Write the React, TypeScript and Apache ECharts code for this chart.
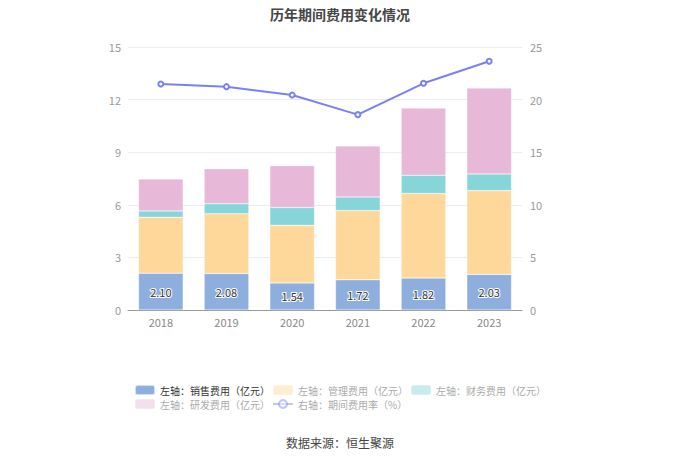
import React, { useEffect, useRef } from "react";
import * as echarts from "echarts";

const years = ["2018", "2019", "2020", "2021", "2022", "2023"];
const salesCost = [2.1, 2.08, 1.54, 1.72, 1.82, 2.03];
const adminCost = [3.19, 3.41, 3.29, 3.95, 4.83, 4.78];
const financeCost = [0.36, 0.57, 1.01, 0.78, 1.03, 0.95];
const rdCost = [1.82, 2.0, 2.39, 2.91, 3.84, 4.9];
const expenseRate = [21.48, 21.23, 20.44, 18.57, 21.55, 23.64];

const leftTicks = { min: 0, max: 15, interval: 3 };
const rightTicks = { min: 0, max: 25, interval: 5 };

const names = [
  "左轴：销售费用（亿元）",
  "左轴：管理费用（亿元）",
  "左轴：财务费用（亿元）",
  "左轴：研发费用（亿元）",
  "右轴：期间费用率（%）",
];
const colors = ["#8eaedd", "#fed89b", "#86d5d8", "#e7b8d8", "#7b7ff5"];

export default function App() {
  const ref = useRef<HTMLDivElement>(null);
  useEffect(() => {
    if (!ref.current) return;
    document.body.style.margin = "0";
    const chart = echarts.init(ref.current, undefined, { renderer: "svg" });
    const font = "'Noto Sans CJK SC', 'Noto Sans', sans-serif";
    const barSeries = [salesCost, adminCost, financeCost, rdCost].map((d, i) => ({
      name: names[i],
      type: "bar",
      stack: "cost",
      yAxisIndex: 0,
      barWidth: "68%",
      data: d,
      itemStyle: { color: colors[i], borderColor: "rgba(255,255,255,0.6)", borderWidth: 0.5 },
      label:
        i === 0
          ? {
              show: true,
              position: "inside",
              formatter: (p: any) => p.value.toFixed(2),
              color: "#333",
              fontSize: 11,
              fontFamily: font,
              textBorderColor: "#fff",
              textBorderWidth: 2,
            }
          : { show: false },
    }));
    chart.setOption({
      animation: false,
      textStyle: { fontFamily: font },
      title: {
        text: "历年期间费用变化情况",
        left: "center",
        top: 2,
        textStyle: { fontSize: 14, fontWeight: "bold", color: "#464646", fontFamily: font },
      },
      grid: { left: 128, right: 158, top: 47, bottom: 150 },
      legend: {
        left: "center",
        top: 379,
        width: 440,
        itemWidth: 20,
        itemHeight: 10,
        itemGap: 2,
        textStyle: { fontSize: 10, color: "#aaa", fontFamily: font },
        data: names.map((n, i) => ({
          name: n,
          textStyle: { color: i === 0 ? "#333" : "#aaa" },
          itemStyle: { opacity: i === 0 ? 1 : 0.45 },
          lineStyle: { opacity: i === 0 ? 1 : 0.45 },
        })),
      },
      xAxis: {
        type: "category",
        data: years,
        axisLine: { lineStyle: { color: "#999" } },
        axisTick: { alignWithLabel: true, length: 4, lineStyle: { color: "#999" } },
        axisLabel: { color: "#888", fontSize: 11, margin: 6 },
      },
      yAxis: [
        {
          type: "value",
          ...leftTicks,
          axisLine: { show: false },
          axisTick: { show: false },
          axisLabel: { color: "#999", fontSize: 11, margin: 7 },
          splitLine: { lineStyle: { color: "#ebebf3" } },
        },
        {
          type: "value",
          ...rightTicks,
          axisLine: { show: false },
          axisTick: { show: false },
          axisLabel: { color: "#999", fontSize: 11, margin: 8 },
          splitLine: { show: false },
        },
      ],
      series: [
        ...barSeries,
        {
          name: names[4],
          type: "line",
          yAxisIndex: 1,
          data: expenseRate,
          symbol: "emptyCircle",
          symbolSize: 5,
          lineStyle: { color: colors[4], width: 2 },
          itemStyle: { color: colors[4] },
        },
      ],
      graphic: [
        {
          type: "text",
          left: "center",
          top: 436,
          style: { text: "数据来源：恒生聚源", fontSize: 12, fill: "#444", fontFamily: font },
        },
      ],
    });
    return () => chart.dispose();
  }, []);
  return <div ref={ref} style={{ width: 680, height: 460 }} />;
}
